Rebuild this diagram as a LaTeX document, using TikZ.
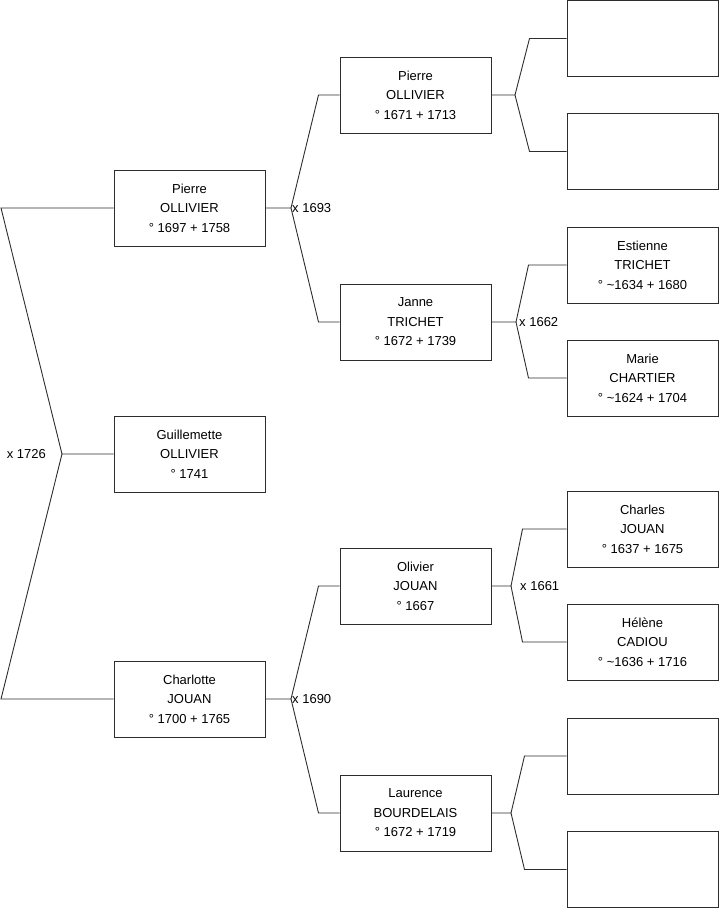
\documentclass[tikz,border=0pt]{standalone}
\usepackage{fontspec}
\setmainfont{Liberation Sans}
\definecolor{treeline}{RGB}{45,45,45}

\begin{document}
\begin{tikzpicture}[x=1pt, y=-1pt,
  person/.style={draw=treeline, line width=1pt, minimum width=151pt, minimum height=76pt,
    inner sep=0pt, align=center, font=\fontsize{13}{19.5}\selectfont},
  link/.style={treeline, line width=0.9pt},
  wedding/.style={font=\fontsize{13}{15}\selectfont, inner sep=0pt}]
  \useasboundingbox (0,0) rectangle (719,908);

  % generation 1
  \node[person] (g1a) at (189.5,208) {Pierre\\OLLIVIER\\° 1697 + 1758};
  \node[person] (g1b) at (189.5,454) {Guillemette\\OLLIVIER\\° 1741};
  \node[person] (g1c) at (189.5,699) {Charlotte\\JOUAN\\° 1700 + 1765};

  % generation 2
  \node[person] (g2a) at (415.5,95)  {Pierre\\OLLIVIER\\° 1671 + 1713};
  \node[person] (g2b) at (415.5,322) {Janne\\TRICHET\\° 1672 + 1739};
  \node[person] (g2c) at (415.5,586) {Olivier\\JOUAN\\° 1667};
  \node[person] (g2d) at (415.5,813) {Laurence\\BOURDELAIS\\° 1672 + 1719};

  % generation 3 (unknown ones left empty)
  \node[person] (g3a) at (642.5,38.5)  {};
  \node[person] (g3b) at (642.5,151.5) {};
  \node[person] (g3c) at (642.5,265)   {Estienne\\TRICHET\\° \textasciitilde1634 + 1680};
  \node[person] (g3d) at (642.5,378)   {Marie\\CHARTIER\\° \textasciitilde1624 + 1704};
  \node[person] (g3e) at (642.5,529)   {Charles\\JOUAN\\° 1637 + 1675};
  \node[person] (g3f) at (642.5,642)   {Hélène\\CADIOU\\° \textasciitilde1636 + 1716};
  \node[person] (g3g) at (642.5,756)   {};
  \node[person] (g3h) at (642.5,869.5) {};

  % x 1726
  \coordinate (j0) at (62,454);
  \coordinate (e0a) at (1,208);
  \coordinate (e0b) at (1,699);
  \draw[link] (g1b.west) -- (j0) -- (e0a) -- (g1a.west);
  \draw[link] (j0) -- (e0b) -- (g1c.west);
  \node[wedding, anchor=east] (w0) at (46,454) {x 1726};

  % x 1693
  \coordinate (j1) at (291,208);
  \draw[link] (g1a.east) -- (j1) -- ([xshift=-21pt]g2a.west) -- (g2a.west);
  \draw[link] (j1) -- ([xshift=-21pt]g2b.west) -- (g2b.west);
  \node[wedding, anchor=west] (w1) at (292,208) {x 1693};

  % x 1690
  \coordinate (j2) at (291,699);
  \draw[link] (g1c.east) -- (j2) -- ([xshift=-21pt]g2c.west) -- (g2c.west);
  \draw[link] (j2) -- ([xshift=-21pt]g2d.west) -- (g2d.west);
  \node[wedding, anchor=west] (w2) at (292,699) {x 1690};

  % parents of Pierre (no wedding date)
  \coordinate (j3) at (515,95);
  \draw[link] (g2a.east) -- (j3) -- ([xshift=-37pt]g3a.west) -- (g3a.west);
  \draw[link] (j3) -- ([xshift=-37pt]g3b.west) -- (g3b.west);

  % x 1662
  \coordinate (j4) at (516,322);
  \draw[link] (g2b.east) -- (j4) -- ([xshift=-38pt]g3c.west) -- (g3c.west);
  \draw[link] (j4) -- ([xshift=-38pt]g3d.west) -- (g3d.west);
  \node[wedding, anchor=west] (w4) at (519,322) {x 1662};

  % x 1661
  \coordinate (j5) at (511,586);
  \draw[link] (g2c.east) -- (j5) -- ([xshift=-44pt]g3e.west) -- (g3e.west);
  \draw[link] (j5) -- ([xshift=-44pt]g3f.west) -- (g3f.west);
  \node[wedding, anchor=west] (w5) at (520,586) {x 1661};

  % parents of Laurence (unknown)
  \coordinate (j6) at (511,813);
  \draw[link] (g2d.east) -- (j6) -- ([xshift=-42pt]g3g.west) -- (g3g.west);
  \draw[link] (j6) -- ([xshift=-42pt]g3h.west) -- (g3h.west);
\end{tikzpicture}
\end{document}
